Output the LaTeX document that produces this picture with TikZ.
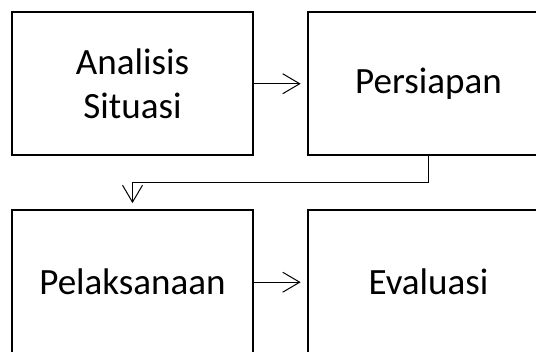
\documentclass[tikz,border=0pt]{standalone}
\usepackage{fontspec}
\setmainfont{Carlito}
\usetikzlibrary{positioning, arrows.meta}

\begin{document}
\begin{tikzpicture}[x=0.75pt, y=-0.75pt,
        font=\fontsize{27.8}{32.8}\selectfont,
        box/.style={draw=black, line width=1.5pt, minimum width=180.75pt, minimum height=107.6pt, outer sep=0pt, inner sep=0pt, align=center},
        conn/.style={draw=black, line width=0.75pt, -{Straight Barb[length=12.75pt, width=15pt, line width=0.75pt]}, shorten >=5.5pt},
        node distance=41.25pt]
        % Frame (the boxes on the right and at the bottom run past it)
        \useasboundingbox (0,0) rectangle (536,352);
        \clip (0,0) rectangle (536,352);

        % Boxes
        \node[box] (analisis) at (132.5,83.75) {Analisis\\Situasi};
        \node[box, right=of analisis] (persiapan) {Persiapan};
        \node[box, below=of analisis] (pelaksanaan) {Pelaksanaan};
        \node[box, right=of pelaksanaan] (evaluasi) {Evaluasi};

        % Arrows
        \draw[conn] (analisis) -- (persiapan);
        \draw[conn] (persiapan.south) -- ++(0,27.25) -| (pelaksanaan.north);
        \draw[conn] (pelaksanaan) -- (evaluasi);
    \end{tikzpicture}
\end{document}
